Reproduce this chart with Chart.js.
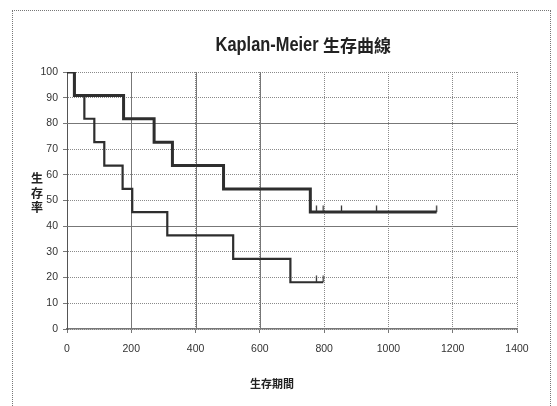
<!DOCTYPE html>
<html>
<head>
<meta charset="utf-8">
<script src="https://cdn.jsdelivr.net/npm/chart.js@4/dist/chart.umd.min.js"></script>
<style>
  body { margin: 0; background: #fff; }
  #wrap { position: relative; width: 557px; height: 406px; overflow: hidden; background: #fff; }
  #frame { position: absolute; left: 12px; top: 10px; width: 537px; height: 420px; border: 1px dotted #777; }
  #km { position: absolute; left: 0; top: 0; }
  .cjk { font-family: "Noto Sans CJK TC", "Noto Sans CJK SC", sans-serif; font-weight: bold; color: #222; }
  /* Latin part of the title is condensed in the original */
  #tlat { position: absolute; right: 238px; top: 44px; transform: translateY(-50%) scaleX(0.82); transform-origin: right center;
          font: bold 20px "Liberation Sans", sans-serif; color: #222; white-space: nowrap; }
  #tcjk { position: absolute; left: 323px; top: 44px; transform: translateY(-50%); font-size: 17px; white-space: nowrap; }
  #ytitle { position: absolute; left: 30px; top: 171px; width: 14px; text-align: center; font-size: 12px; line-height: 14.5px; }
  #xtitle { position: absolute; left: 272px; top: 383px; transform: translate(-50%, -50%); font-size: 11px; white-space: nowrap; }
</style>
</head>
<body>
<div id="wrap">
  <div id="frame"></div>
  <canvas id="km" width="557" height="406"></canvas>
  <div id="tlat">Kaplan-Meier</div>
  <div id="tcjk" class="cjk">生存曲線</div>
  <div id="ytitle" class="cjk">生<br>存<br>率</div>
  <div id="xtitle" class="cjk">生存期間</div>
</div>
<script>
"use strict";

// ── Data ────────────────────────────────────────────────────────────────────
const armA_time = [0, 23, 176, 271, 328, 487, 757, 776, 797, 854, 963, 1150];
const armA_surv = [100, 90.9, 81.8, 72.7, 63.6, 54.5, 45.5, 45.5, 45.5, 45.5, 45.5, 45.5];
const armA_cens = [776, 797, 854, 963, 1150];

const armB_time = [0, 23, 54, 85, 116, 173, 203, 312, 517, 695, 776, 797];
const armB_surv = [100, 90.9, 81.8, 72.7, 63.6, 54.5, 45.5, 36.4, 27.3, 18.2, 18.2, 18.2];
const armB_cens = [776, 797];

const xTicks = [0, 200, 400, 600, 800, 1000, 1200, 1400];
const yTicks = [0, 10, 20, 30, 40, 50, 60, 70, 80, 90, 100];

// ── Helpers ─────────────────────────────────────────────────────────────────
function toPoints(times, surv) {
  return times.map((t, i) => ({ x: t, y: surv[i] }));
}

// censor mark: short vertical tick sitting on top of the line
function censorMark() {
  const c = document.createElement("canvas");
  c.width = 3;
  c.height = 14;
  const g = c.getContext("2d");
  g.strokeStyle = "#333";
  g.lineWidth = 1.3;
  g.beginPath();
  g.moveTo(1.5, 0.5);
  g.lineTo(1.5, 7);
  g.stroke();
  return c;
}
const MARK = censorMark();

function kmDataset(times, surv, cens, width) {
  return {
    data: toPoints(times, surv),
    stepped: true,
    borderColor: "#2e2e2e",
    borderWidth: width,
    fill: false,
    pointRadius: ctx => cens.includes(times[ctx.dataIndex]) ? 3 : 0,
    pointHoverRadius: 0,
    pointStyle: MARK,
  };
}

// a few of the grid lines are solid in the original
const solidGrid = {
  id: "solidGrid",
  beforeDatasetsDraw(chart, args, opts) {
    const { ctx, chartArea: a, scales: { x, y } } = chart;
    ctx.save();
    ctx.strokeStyle = "#777";
    ctx.lineWidth = 1;
    ctx.beginPath();
    opts.x.forEach(v => {
      const px = Math.round(x.getPixelForValue(v)) + 0.5;
      ctx.moveTo(px, a.top);
      ctx.lineTo(px, a.bottom);
    });
    opts.y.forEach(v => {
      const py = Math.round(y.getPixelForValue(v)) + 0.5;
      ctx.moveTo(a.left, py);
      ctx.lineTo(a.right, py);
    });
    ctx.stroke();
    ctx.restore();
  },
};

const tickFont = { family: "'Liberation Sans', sans-serif", size: 10.5 };

new Chart(document.getElementById("km"), {
  type: "line",
  data: {
    datasets: [
      kmDataset(armA_time, armA_surv, armA_cens, 3),
      kmDataset(armB_time, armB_surv, armB_cens, 2.2),
    ],
  },
  options: {
    responsive: false,
    animation: false,
    layout: { padding: { top: 72, right: 40, left: 0, bottom: 0 } },
    plugins: {
      legend: { display: false },
      tooltip: { enabled: false },
      solidGrid: { x: [200, 400, 600], y: [40, 80] },
    },
    scales: {
      x: {
        type: "linear",
        min: 0,
        max: 1400,
        afterBuildTicks: s => { s.ticks = xTicks.map(v => ({ value: v })); },
        afterFit: s => { s.height = 77; },
        ticks: { font: tickFont, color: "#333", padding: 10, maxRotation: 0, callback: v => String(v) },
        grid: { color: "#8a8a8a", lineWidth: 1, tickLength: 4, tickColor: "#777" },
        border: { display: true, color: "#777", width: 1.5, dash: [1, 1] },
      },
      y: {
        min: 0,
        max: 100,
        afterBuildTicks: s => { s.ticks = yTicks.map(v => ({ value: v })); },
        afterFit: s => { s.width = 67; },
        ticks: { font: tickFont, color: "#333", padding: 5, callback: v => String(v) },
        grid: { color: "#8a8a8a", lineWidth: 1, tickLength: 4, tickColor: "#777" },
        border: { display: true, color: "#555", width: 1, dash: [1, 1] },
      },
    },
  },
  plugins: [solidGrid],
});
</script>
</body>
</html>
